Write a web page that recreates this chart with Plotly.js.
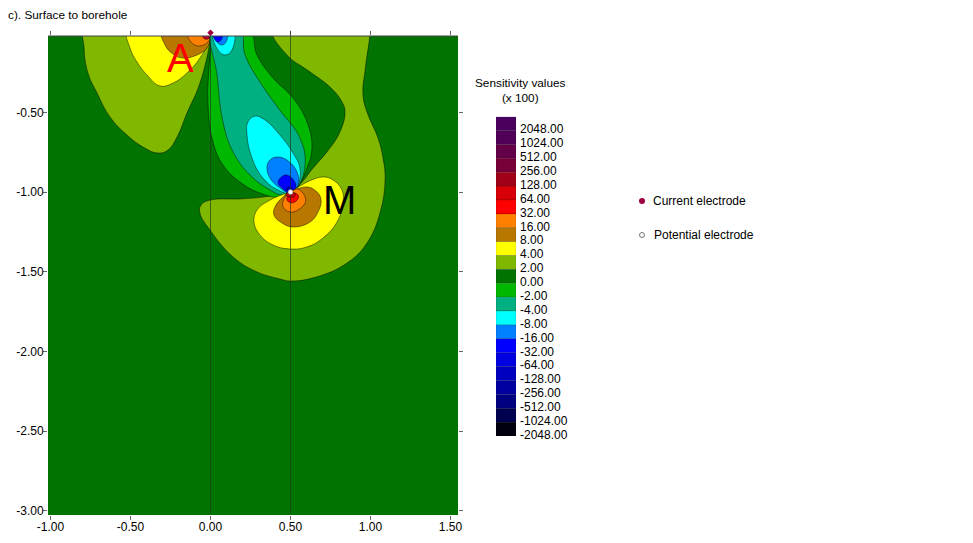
<!DOCTYPE html>
<html><head><meta charset="utf-8">
<script src="https://cdn.plot.ly/plotly-3.0.1.min.js"></script>
<style>html,body{margin:0;padding:0;background:#fff}#c{width:973px;height:543px}</style></head>
<body><div id="c"></div>
<script>
// Contour outlines (x = distance, y = depth)
const oliveLeftX=[-.78,-.79,-.766,-.709,-.628,-.522,-.422,-.328,-.266,-.209,-.147,-.066,0,0,-.78];
const oliveLeftY=[.02,-.096,-.253,-.378,-.529,-.642,-.717,-.755,-.736,-.654,-.504,-.316,-.03,.02,.02];
const yellowLeftX=[-.516,-.503,-.459,-.397,-.316,-.234,-.147,-.066,0,0,-.516];
const yellowLeftY=[.02,-.096,-.184,-.265,-.334,-.316,-.253,-.159,-.03,.02,.02];
const brownLeftX=[-.303,-.284,-.234,-.172,-.084,-.022,0,0,-.303];
const brownLeftY=[.02,-.077,-.134,-.159,-.140,-.096,-.03,.02,.02];
const orangeLeftX=[-.147,-.116,-.066,-.016,0,0,-.147];
const orangeLeftY=[.02,-.065,-.083,-.058,-.02,.02,.02];
const redLeftX=[-.066,-.034,-.003,0,-.066];
const redLeftY=[.02,-.04,-.028,.02,.02];
const oliveRightX=[.391,.478,.603,.747,.822,.841,.809,.728,.641,.572,.5,.478,.328,.184,-.003,-.059,-.066,-.003,.141,.291,.434,.5,.66,.853,.978,1.059,1.091,1.078,1.047,.978,.953,.968,.995,.995,.391];
const oliveRightY=[.02,-.140,-.233,-.341,-.435,-.497,-.623,-.748,-.849,-.937,-1.0,-1.006,-1.031,-1.043,-1.050,-1.081,-1.131,-1.238,-1.407,-1.501,-1.545,-1.558,-1.533,-1.445,-1.319,-1.131,-.924,-.786,-.661,-.497,-.391,-.221,-.021,.02,.02];
const greenX=[.241,.291,.391,.516,.603,.634,.603,.541,.5,.434,.309,.184,.078,.016,-.016,.003,.006,.241];
const greenY=[.02,-.140,-.284,-.410,-.560,-.723,-.849,-.975,-1.0,-1.031,-1.006,-.937,-.830,-.686,-.435,-.058,.02,.02];
const tealX=[.184,.216,.309,.423,.559,.591,.541,.5,.447,.353,.247,.141,.078,.041,.01,.184];
const tealY=[.02,-.140,-.309,-.472,-.661,-.830,-.975,-1.0,-1.018,-.975,-.893,-.748,-.560,-.265,.02,.02];
const cyanX=[.278,.341,.434,.516,.559,.547,.5,.422,.328,.259,.228,.234,.278];
const cyanY=[-.523,-.548,-.642,-.755,-.849,-.956,-1.006,-.987,-.912,-.786,-.642,-.560,-.523];
const cyanTopX=[.016,.047,.091,.134,.141,.016];
const cyanTopY=[.02,-.109,-.140,-.109,.02,.02];
const blueX=[.416,.478,.541,.547,.5,.434,.372,.353,.372,.416];
const blueY=[-.780,-.799,-.874,-.956,-1.006,-.975,-.912,-.843,-.799,-.780];
const blueTopX=[.016,.047,.072,.097,.103,.016];
const blueTopY=[.02,-.065,-.077,-.058,.02,.02];
const brightBlueX=[.466,.509,.534,.5,.447,.422,.466];
const brightBlueY=[-.893,-.912,-.968,-1.006,-.975,-.937,-.893];
const brightBlueTopX=[.009,.041,.066,.072,.009];
const brightBlueTopY=[.02,-.058,-.046,.02,.02];
const darkBlueX=[.485,.512,.5,.475,.485];
const darkBlueY=[-.968,-.98,-1.003,-.985,-.968];
const yellowMX=[.5,.591,.703,.766,.822,.828,.791,.703,.603,.5,.391,.309,.272,.291,.372,.478,.5];
const yellowMY=[-1.0,-.943,-.905,-.924,-.987,-1.068,-1.188,-1.288,-1.344,-1.357,-1.332,-1.269,-1.188,-1.112,-1.050,-1.006,-1.0];
const brownMX=[.5,.603,.666,.691,.672,.622,.516,.447,.397,.403,.453,.5];
const brownMY=[-1.0,-.968,-1.0,-1.050,-1.125,-1.188,-1.219,-1.194,-1.144,-1.093,-1.031,-1.0];
const orangeMX=[.5,.547,.591,.591,.547,.497,.453,.459,.484,.5];
const orangeMY=[-1.0,-.981,-1.031,-1.068,-1.112,-1.125,-1.093,-1.043,-1.012,-1.0];
const redMX=[.5,.547,.547,.509,.478,.484,.5];
const redMY=[-1.0,-1.018,-1.043,-1.068,-1.050,-1.018,-1.0];
const darkRedMX=[.5,.53,.52,.49,.47,.5];
const darkRedMY=[-1.0,-1.015,-1.03,-1.03,-1.015,-1.0];
// Borehole lines and electrodes
const boreholeX=[0,0];
const boreholeY=[.012,-3.025];
const borehole2X=[.5,.5];
const currentX=[0];
const currentY=[0];
const potentialX=[.5];
const potentialY=[-1];
// Axis ticks
const xTicks=[-1,-.5,0,.5,1,1.5];
const xTickText=['-1.00','-0.50','0.00','0.50','1.00','1.50'];
const yTicks=[-.5,-1,-1.5,-2,-2.5,-3];
const yTickText=['-0.50','-1.00','-1.50','-2.00','-2.50','-3.00'];
// Colour scale
const scaleLabels=['2048.00','1024.00','512.00','256.00','128.00','64.00','32.00','16.00','8.00','4.00','2.00','0.00','-2.00','-4.00','-8.00','-16.00','-32.00','-64.00','-128.00','-256.00','-512.00','-1024.00','-2048.00'];
const scaleColors=['#4b0060','#500058','#640048','#780038','#a00018','#d80008','#ff0000','#ff8000','#b87800','#ffff00','#80b800','#007300','#00b800','#00b080','#00ffff','#0080ff','#0000ff','#0000e0','#0000c0','#0000a0','#000080','#000050','#000010'];
const C={base:'#007300',olive:'#80b800',yellow:'#ffff00',brown:'#b87800',orange:'#ff8000',red:'#ff0000',darkRed:'#c00010',green:'#00b800',teal:'#00b080',cyan:'#00ffff',blue:'#0080ff',bright:'#0000ff',dark:'#0000c0'};
const regions=[
[oliveLeftX,oliveLeftY,C.olive],[yellowLeftX,yellowLeftY,C.yellow],[brownLeftX,brownLeftY,C.brown],[orangeLeftX,orangeLeftY,C.orange],[redLeftX,redLeftY,'#c00030'],
[oliveRightX,oliveRightY,C.olive],[greenX,greenY,C.green],[tealX,tealY,C.teal],
[cyanX,cyanY,C.cyan],[cyanTopX,cyanTopY,C.cyan],[blueX,blueY,C.blue],[blueTopX,blueTopY,C.blue],[brightBlueX,brightBlueY,C.bright],[brightBlueTopX,brightBlueTopY,C.bright],[darkBlueX,darkBlueY,C.dark],
[yellowMX,yellowMY,C.yellow],[brownMX,brownMY,C.brown],[orangeMX,orangeMY,C.orange],[redMX,redMY,C.red],[darkRedMX,darkRedMY,C.darkRed]];
const W=973,H=543,font='"Liberation Sans",Arial,sans-serif';
const traces=regions.map(r=>({type:'scatter',mode:'lines',x:r[0],y:r[1],fill:'toself',fillcolor:r[2],
  line:{color:'rgba(0,0,0,.75)',width:.6,shape:'spline',smoothing:1.2},hoverinfo:'skip',showlegend:false}));
// boreholes and electrodes sit on an overlay with the same scale that reaches above the section
[boreholeX,borehole2X].forEach(bx=>traces.push({type:'scatter',mode:'lines',xaxis:'x4',yaxis:'y4',x:bx,y:boreholeY,line:{color:'rgba(30,50,30,.65)',width:1},showlegend:false}));
traces.push({type:'scatter',mode:'markers',xaxis:'x4',yaxis:'y4',x:currentX,y:currentY,marker:{size:5,color:'#a00040',symbol:'diamond',line:{width:0}},showlegend:false});
traces.push({type:'scatter',mode:'markers',xaxis:'x4',yaxis:'y4',x:potentialX,y:potentialY,marker:{size:5,color:'#ffffff',line:{width:.5,color:'#666'}},showlegend:false});
// colour scale as a stacked bar on its own axes
const bandIdx=scaleColors.map((_,i)=>scaleColors.length-1-i+.5);
traces.push({type:'bar',orientation:'h',xaxis:'x2',yaxis:'y2',x:scaleColors.map(()=>1),y:bandIdx,width:1,
  marker:{color:scaleColors,line:{color:'rgba(0,0,0,.3)',width:.5}},hoverinfo:'skip',showlegend:false});
// electrode key
traces.push({type:'scatter',mode:'markers',xaxis:'x3',yaxis:'y3',x:[0],y:[1],marker:{size:6,color:'#a00040'},showlegend:false});
traces.push({type:'scatter',mode:'markers',xaxis:'x3',yaxis:'y3',x:[0],y:[0],marker:{size:5,color:'#fff',line:{width:1,color:'#777'}},showlegend:false});
const axisBase={showgrid:false,zeroline:false,ticks:'outside',ticklen:4,tickwidth:1,tickcolor:'#666',mirror:'ticks',showline:false,tickfont:{family:font,size:12,color:'#000'},tickmode:'array'};
const layout={width:W,height:H,margin:{l:0,r:0,t:0,b:0},paper_bgcolor:'#fff',plot_bgcolor:'rgba(0,0,0,0)',showlegend:false,bargap:0,
 title:{text:'c). Surface to borehole',font:{family:font,size:11.8,color:'#000'},x:8/W,xanchor:'left',xref:'container',y:1-15/H,yanchor:'middle',yref:'container'},
 xaxis:Object.assign({},axisBase,{domain:[48/W,458/W],range:[-1.0156,1.5469],tickvals:xTicks,ticktext:xTickText,ticklabelstandoff:-3}),
 yaxis:Object.assign({},axisBase,{domain:[1-515/H,1-36/H],range:[-3.0257,-.0207],tickvals:yTicks,ticktext:yTickText,ticklabelstandoff:-3}),
 xaxis2:{domain:[496/W,516/W],range:[0,1],anchor:'y2',showgrid:false,zeroline:false,showticklabels:false,ticks:''},
 yaxis2:{domain:[1-436/H,1-116.7/H],range:[0,23],anchor:'x2',side:'right',showgrid:false,zeroline:false,ticks:'',tickmode:'array',ticklabelstandoff:3,
   tickvals:scaleLabels.map((_,i)=>22-i+.1),ticktext:scaleLabels,tickfont:{family:font,size:12,color:'#000'}},
 xaxis3:{domain:[630/W,760/W],range:[-12/130,118/130],anchor:'y3',visible:false},
 yaxis3:{domain:[1-250/H,1-190/H],range:[-.441,1.324],anchor:'x3',visible:false},
 xaxis4:{domain:[48/W,458/W],range:[-1.0156,1.5469],anchor:'y4',visible:false},
 yaxis4:{domain:[1-515/H,1-25/H],range:[-3.0257,.0483],anchor:'x4',visible:false},
 shapes:[
  {type:'rect',layer:'below',xref:'x domain',yref:'y domain',x0:0,x1:1,y0:0,y1:1,fillcolor:C.base,line:{width:0}},
  {type:'line',layer:'above',xref:'x domain',yref:'y domain',x0:0,x1:1,y0:1,y1:1,line:{color:'#444',width:1}}],
 annotations:[
  {x:-.19,y:-.16,xref:'x',yref:'y',text:'A',showarrow:false,font:{family:font,size:40,color:'#ff0000'}},
  {x:.806,y:-1.05,xref:'x',yref:'y',text:'M',showarrow:false,font:{family:font,size:40,color:'#000'}},
  {x:520/W,y:1-90/H,xref:'paper',yref:'paper',yanchor:'middle',text:'Sensitivity values<br>(x 100)',showarrow:false,align:'center',font:{family:font,size:11.8,color:'#000'}},
  {x:651/W,y:1-201/H,xref:'paper',yref:'paper',xanchor:'left',yanchor:'middle',text:'Current electrode',showarrow:false,font:{family:font,size:12,color:'#000'}},
  {x:652/W,y:1-235/H,xref:'paper',yref:'paper',xanchor:'left',yanchor:'middle',text:'Potential electrode',showarrow:false,font:{family:font,size:12,color:'#000'}}
 ]};
Plotly.newPlot('c',traces,layout,{displayModeBar:false,staticPlot:true});
</script></body></html>
